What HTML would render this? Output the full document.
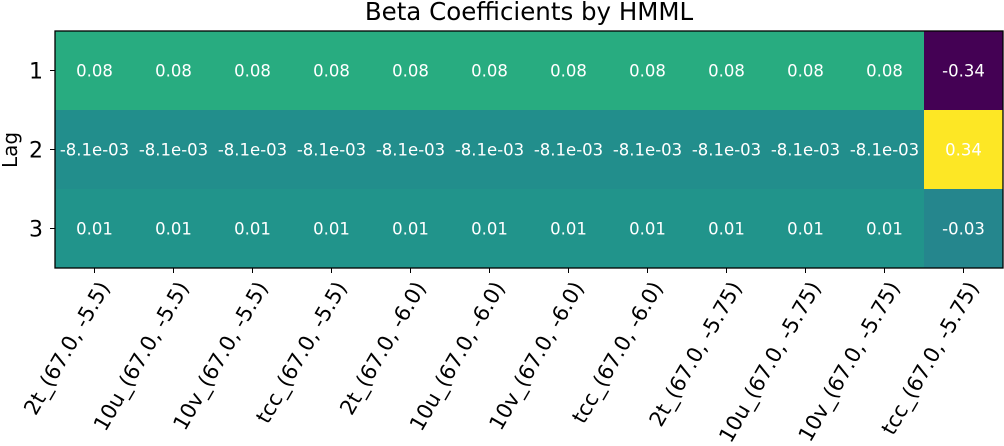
<!DOCTYPE html>
<html><head><meta charset="utf-8"><style>
html,body{margin:0;padding:0;background:#fff;}
svg{display:block;font-family:"DejaVu Sans","Liberation Sans",sans-serif;}
</style></head><body>
<svg id="chart" width="1004" height="446" viewBox="0 0 1004 446">
<text x="529" y="20" font-size="24.5" text-anchor="middle" fill="#000">Beta Coefficients by HMML</text>
<text transform="translate(17,150) rotate(-90)" font-size="20" text-anchor="middle" fill="#000">Lag</text>
<g id="cells"></g><g id="xt"></g><g id="yt"></g>
<rect x="55" y="31" width="948" height="237" fill="none" stroke="#000" stroke-width="1.3"/>
</svg>
<script>
const categories=["2t_(67.0, -5.5)","10u_(67.0, -5.5)","10v_(67.0, -5.5)","tcc_(67.0, -5.5)","2t_(67.0, -6.0)","10u_(67.0, -6.0)","10v_(67.0, -6.0)","tcc_(67.0, -6.0)","2t_(67.0, -5.75)","10u_(67.0, -5.75)","10v_(67.0, -5.75)","tcc_(67.0, -5.75)"];
const lags=["1","2","3"];
const lag1=[0.08,0.08,0.08,0.08,0.08,0.08,0.08,0.08,0.08,0.08,0.08,-0.34];
const lag2=[-0.0081,-0.0081,-0.0081,-0.0081,-0.0081,-0.0081,-0.0081,-0.0081,-0.0081,-0.0081,-0.0081,0.34];
const lag3=[0.01,0.01,0.01,0.01,0.01,0.01,0.01,0.01,0.01,0.01,0.01,-0.03];
const rows=[lag1,lag2,lag3];
const X0=55,Y0=31,W=948,H=237;
const cw=W/categories.length, rh=H/lags.length;
const xPos=i=>X0+i*cw, yPos=j=>Y0+j*rh;
const vir=["#440154","#482475","#414487","#355f8d","#2a788e","#21918c","#22a884","#44bf70","#7ad151","#bddf26","#fde725"].map(h=>[1,3,5].map(k=>parseInt(h.substr(k,2),16)));
const all=rows.flat(); const mn=Math.min(...all), mx=Math.max(...all);
function col(v){let t=(v-mn)/(mx-mn)*10;let i=Math.min(9,Math.floor(t)),f=t-i;const c=vir[i].map((a,k)=>Math.round(a+(vir[i+1][k]-a)*f));return `rgb(${c.join(',')})`;}
function fmt(v){return Math.abs(v)<0.01&&v!==0?v.toExponential(1).replace(/e([+-])(\d)$/,'e$10$2'):v.toFixed(2);}
const NS="http://www.w3.org/2000/svg";
const cells=document.getElementById('cells'),xt=document.getElementById('xt'),yt=document.getElementById('yt');
rows.forEach((r,j)=>{r.forEach((v,i)=>{
 const rc=document.createElementNS(NS,'rect');
 rc.setAttribute('x',xPos(i));rc.setAttribute('y',yPos(j));rc.setAttribute('width',cw+0.5);rc.setAttribute('height',rh+0.5);rc.setAttribute('fill',col(v));
 
 
 cells.appendChild(rc);
 const t=document.createElementNS(NS,'text');
 t.setAttribute('x',xPos(i)+cw/2);t.setAttribute('y',yPos(j)+rh/2+6);t.setAttribute('text-anchor','middle');t.setAttribute('font-size','16.5');t.setAttribute('fill','#fff');
 t.textContent=fmt(v);
 
 
 cells.appendChild(t);
});});
lags.forEach((l,j)=>{
 const y=yPos(j)+rh/2;
 const tk=document.createElementNS(NS,'line');
 tk.setAttribute('x1',X0-5);tk.setAttribute('x2',X0);tk.setAttribute('y1',y);tk.setAttribute('y2',y);tk.setAttribute('stroke','#000');
 
 
 yt.appendChild(tk);
 const t=document.createElementNS(NS,'text');
 t.setAttribute('x',X0-12);t.setAttribute('y',y+8);t.setAttribute('text-anchor','end');t.setAttribute('font-size','22');
 t.textContent=l;
 
 
 yt.appendChild(t);
});
categories.forEach((c,i)=>{
 const x=xPos(i)+cw/2;
 const tk=document.createElementNS(NS,'line');
 tk.setAttribute('x1',x);tk.setAttribute('x2',x);tk.setAttribute('y1',Y0+H);tk.setAttribute('y2',Y0+H+5);tk.setAttribute('stroke','#000');
 
 
 xt.appendChild(tk);
 const t=document.createElementNS(NS,'text');
 t.setAttribute('text-anchor','end');t.setAttribute('font-size','21');
 t.setAttribute('transform',`translate(${x+9},${Y0+H+15}) rotate(-60)`);
 t.setAttribute('dy','8');
 t.textContent=c;
 
 
 xt.appendChild(t);
});
</script>
</body></html>
